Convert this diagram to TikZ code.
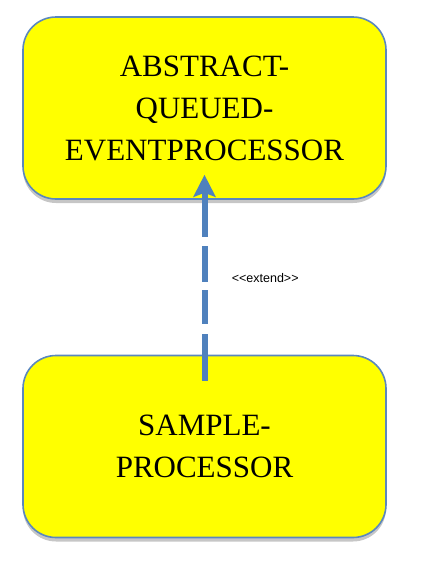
\documentclass[tikz,border=0pt]{standalone}
\usepackage{fontspec}
\setmainfont{Liberation Serif}
\newfontfamily\labelfont{Liberation Sans}
\usepackage{tikz}
\usetikzlibrary{arrows.meta,positioning,shadows}
\definecolor{boxfill}{RGB}{255,255,0}
\definecolor{edgeblue}{RGB}{90,135,190}
\definecolor{arrowblue}{RGB}{79,129,189}

\begin{document}
\begin{tikzpicture}[
    x=1pt, y=-1pt,
    classbox/.style={draw=edgeblue, line width=1.6pt, fill=boxfill, rounded corners=33pt,
      minimum width=363pt, minimum height=182pt, align=center,
      font=\fontsize{31}{42}\selectfont,
      drop shadow={shadow xshift=0pt, shadow yshift=-4pt, opacity=.45}},
    >={Stealth[length=22pt,width=22pt,inset=4pt]}
  ]
    \useasboundingbox (0,0) rectangle (422,579);
    \node[classbox] (aq) at (204.5,108) {ABSTRACT-\\QUEUED-\\EVENTPROCESSOR};
    \node[classbox] (sp) at (204.5,446.5) {SAMPLE-\\PROCESSOR};
    \draw[->, arrowblue, line width=6pt,
      dash pattern=on 47pt off 10pt on 34pt off 8pt on 36pt off 9pt on 200pt]
      ([yshift=-26pt]sp.north) -- node[right=21pt, text=black, font=\labelfont\fontsize{12.5}{14}\selectfont, pos=.5] (ext) {<<extend>>} ([yshift=25pt]aq.south);
  \end{tikzpicture}
\end{document}
